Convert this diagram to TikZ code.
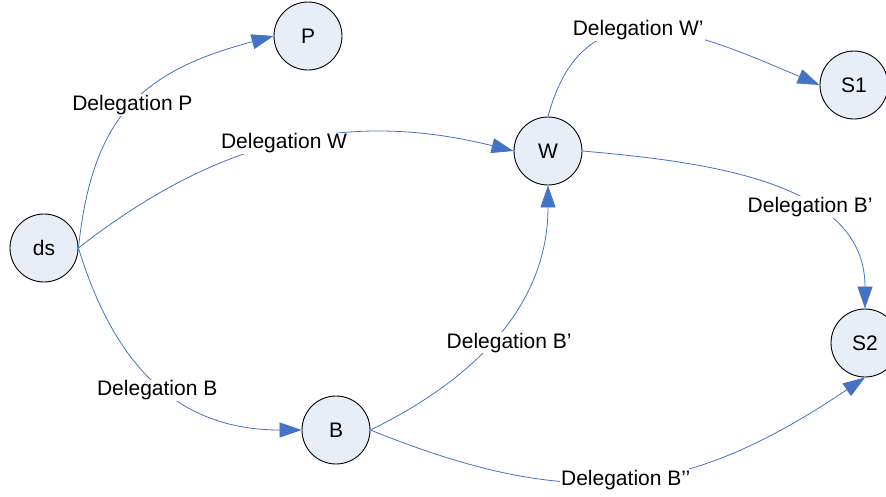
\documentclass[tikz,border=0pt]{standalone}
\usepackage{fontspec}
\setmainfont{Liberation Sans}
\usetikzlibrary{arrows.meta}
\definecolor{delblue}{HTML}{4472C4}
\definecolor{actorfill}{HTML}{E8EEF8}
\begin{document}
\begin{tikzpicture}[x=1pt, y=-1pt,
    font=\fontsize{21}{24}\selectfont,
    actor/.style={circle, draw, line width=0.9pt, fill=actorfill,
      minimum size=68pt, inner sep=0pt},
    deleg/.style={draw=delblue, line width=0.8pt,
      -{Triangle[length=22pt, width=15pt]}, delblue},
    lbl/.style={fill=white, text=black, inner sep=1pt}]
    \useasboundingbox (0,0) rectangle (886,496);
    \node [actor] (ds) at (44,248) {ds};
    \node [actor] (P) at (308,36) {P};
    \node [actor] (W) at (548,151) {W};
    \node [actor] (B) at (336,430) {B};
    \node [actor] (S1) at (854,85) {S1};
    \node [actor] (S2) at (865,343) {S2};
    \path (ds.east) edge [deleg, out=84, in=195, looseness=1.2]
      node [lbl] {Delegation P} (P.west);
    \path (ds.east) edge [deleg, out=38, in=166]
      node [lbl] {Delegation W} (W.west);
    \path (ds.east) edge [deleg, out=-73, in=180, looseness=1.1]
      node [lbl, yshift=-7pt] {Delegation B} (B.west);
    \path (B.east) edge [deleg, out=26, in=-90]
      node [lbl, xshift=10pt, yshift=-10pt] {Delegation B’} (W.south);
    \path (B.east) edge [deleg, out=-22, in=214, looseness=1.12]
      node [lbl] {Delegation B’’} (S2.south);
    \path (W.north) edge [deleg, out=75, in=157, looseness=1.3]
      node [lbl, pos=0.46] {Delegation W’} (S1.west);
    \path (W.east) edge [deleg, out=-5, in=90]
      node [lbl, pos=0.63] {Delegation B’} (S2.north);
\end{tikzpicture}
\end{document}
